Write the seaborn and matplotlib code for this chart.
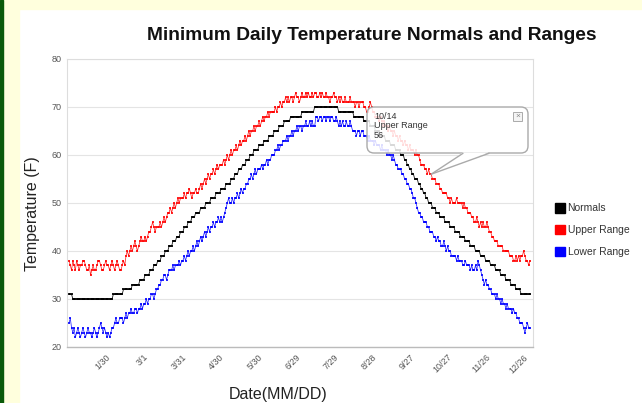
import numpy as np
import pandas as pd
import seaborn as sns
import matplotlib.pyplot as plt
from matplotlib.patches import Patch, Rectangle, FancyBboxPatch, Polygon

# --- daily values, one row per month ---
normals = [
    31,31,31,30,30,30,30,30,30,30, 30,30,30,30,30,30,30,30,30,30, 30,30,30,30,30,30,30,30,30,30, 30,
    30,30,30,30,31,31,31,31,31,31, 31,31,32,32,32,32,32,32,32,33, 33,33,33,33,33,34,34,34,
    34,35,35,35,35,36,36,36,37,37, 37,38,38,38,39,39,39,40,40,40, 41,41,41,42,42,42,43,43,43,44, 44,
    44,45,45,45,46,46,46,47,47,47, 48,48,48,48,49,49,49,49,50,50, 50,50,51,51,51,51,52,52,52,52,
    53,53,53,53,54,54,54,54,55,55, 55,56,56,56,57,57,57,58,58,58, 59,59,59,60,60,60,61,61,61,61, 62,
    62,62,62,63,63,63,63,64,64,64, 64,65,65,65,65,66,66,66,66,67, 67,67,67,67,68,68,68,68,68,68,
    68,68,68,69,69,69,69,69,69,69, 69,69,69,70,70,70,70,70,70,70, 70,70,70,70,70,70,70,70,70,70, 70,
    70,69,69,69,69,69,69,69,69,69, 69,69,69,68,68,68,68,68,68,68, 68,67,67,67,67,67,66,66,66,66, 65,
    65,65,65,64,64,64,64,63,63,63, 63,62,62,62,62,61,61,61,61,60, 60,60,59,59,58,58,57,57,56,56,
    55,55,55,54,54,53,53,52,52,51, 51,50,50,50,49,49,49,48,48,48, 47,47,47,47,46,46,46,46,45,45, 45,
    45,44,44,44,44,43,43,43,43,42, 42,42,42,41,41,41,41,40,40,40, 40,39,39,39,39,38,38,38,38,37,
    37,37,37,36,36,36,36,35,35,35, 35,34,34,34,34,33,33,33,33,32, 32,32,32,31,31,31,31,31,31,31, 31,
]

upper_range = [
    38,37,36,38,37,36,38,37,36,37, 37,38,38,37,36,36,37,35,36,37, 36,36,37,38,38,37,36,36,37,38, 37,
    37,36,37,38,37,36,37,38,37,36, 36,37,38,37,39,40,39,40,41,40, 41,42,41,40,41,42,43,42,
    42,43,42,43,44,44,45,46,45,44, 45,45,45,46,45,46,47,46,47,48, 48,49,48,49,50,49,50,51,50,51, 51,
    51,52,51,52,52,53,52,51,52,52, 53,52,52,53,54,53,54,55,54,55, 56,55,56,56,57,56,57,58,57,58,
    58,58,59,58,59,60,59,60,61,60, 61,61,62,61,62,63,62,63,63,64, 63,64,65,64,65,65,66,65,66,66, 67,
    66,67,68,67,68,68,69,68,69,69, 69,69,70,69,70,70,71,70,71,71, 72,71,72,71,72,72,71,72,73,72,
    72,71,72,73,72,72,73,72,73,72, 72,73,72,73,73,72,72,73,72,73, 72,72,73,72,72,71,72,72,73,72, 72,
    71,72,71,72,71,71,72,71,71,71, 72,71,71,71,70,71,71,70,71,71, 71,70,70,69,69,70,71,70,69,69, 68,
    68,68,67,68,67,66,67,66,66,65, 66,65,65,64,65,64,64,63,64,63, 63,62,63,62,62,61,62,61,61,61,
    60,61,60,60,59,58,58,58,57,57, 56,57,56,56,55,55,55,54,54,54, 53,53,52,52,52,52,51,51,50,51, 50,
    50,50,51,50,50,50,50,49,50,49, 49,48,48,48,47,47,46,46,47,46, 45,46,45,46,45,45,46,45,44,44,
    43,43,42,42,42,41,41,41,41,40, 40,40,40,40,39,39,39,38,38,39, 38,39,38,39,39,40,39,38,38,37, 38,
]

lower_range = [
    25,26,24,23,24,22,23,24,23,22, 23,24,23,22,23,24,23,23,22,23, 24,23,22,23,24,25,24,23,24,23, 22,
    23,22,23,24,24,25,26,25,25,26, 26,26,25,26,27,26,27,27,28,27, 27,28,28,27,28,28,29,28,
    29,29,30,29,30,30,31,31,30,31, 32,32,33,33,34,34,35,35,34,35, 36,36,36,37,36,37,37,37,38,37, 38,
    38,39,38,39,40,39,40,40,41,40, 41,42,41,42,43,42,43,44,43,44, 45,44,45,45,46,45,46,46,47,46,
    47,46,47,48,49,50,51,50,50,51, 50,51,51,52,51,52,53,52,53,53, 54,54,55,55,56,55,56,57,56,57, 57,
    57,58,57,58,58,59,58,59,59,60, 60,60,61,61,62,61,62,62,63,63, 63,64,63,64,64,65,64,65,65,66,
    65,66,66,65,66,66,67,66,66,67, 66,67,66,66,68,68,67,68,68,67, 68,68,67,68,68,67,68,68,67,67, 68,
    67,66,67,66,67,66,66,67,66,66, 67,66,65,65,65,64,65,65,64,65, 65,64,64,64,63,64,63,63,63,62, 63,
    62,62,62,61,62,61,61,61,60,61, 60,60,59,60,59,58,58,57,57,57, 56,56,55,55,54,54,53,53,52,51,
    51,50,49,48,48,47,47,46,46,46, 45,45,44,44,44,43,43,42,43,42, 42,41,41,42,41,40,41,40,40,39, 39,
    39,39,38,39,38,38,38,37,37,38, 37,37,37,36,37,36,36,37,36,38, 37,36,35,34,33,34,33,33,32,32,
    31,31,31,30,31,30,30,29,30,29, 29,28,29,28,28,28,27,28,27,27, 26,26,25,25,25,24,23,24,25,24, 24,
]

assert len(normals) == len(upper_range) == len(lower_range) == 365

tick_days = [30, 60, 90, 120, 150, 180, 210, 240, 270, 300, 330, 360]
tick_labels = ['1/30', '3/1', '3/31', '4/30', '5/30', '6/29', '7/29',
               '8/28', '9/27', '10/27', '11/26', '12/26']
series_names = ['Normals', 'Upper Range', 'Lower Range']
series_colors = ['#000000', '#FF0000', '#0000FF']

# tooltip shown in the screenshot
tip_day = 287
tip_date = '10/14'
tip_series = 'Upper Range'

days = np.arange(1, 366)
df = pd.DataFrame({
    'day': np.tile(days, 3),
    'temp': normals + upper_range + lower_range,
    'series': np.repeat(series_names, len(days)),
})

sns.set_style('white')
plt.rcParams['font.family'] = ['Liberation Sans', 'DejaVu Sans']

W, H = 642, 403
fig = plt.figure(figsize=(W / 100, H / 100), dpi=100)


def fx(x):
    return x / W


def fy(y):
    return 1 - y / H


# page background: yellow margins and green edge
yellow = '#FFFFDD'
fig.add_artist(Rectangle((0, fy(9)), 1, 1 - fy(9), transform=fig.transFigure,
                         color=yellow, zorder=-2))
fig.add_artist(Rectangle((0, 0), fx(19), 1, transform=fig.transFigure,
                         color=yellow, zorder=-2))
fig.add_artist(Rectangle((0, 0), fx(3), 1, transform=fig.transFigure,
                         color='#0A5A0A', zorder=-1))

ax = fig.add_axes([fx(67), fy(347), fx(533) - fx(67), fy(59) - fy(347)])

for name, color in zip(series_names, series_colors):
    sub = df[df['series'] == name]
    big = name == 'Normals'
    sns.lineplot(data=sub, x='day', y='temp', color=color, ax=ax,
                 lw=0.6 if big else 0.55, marker='s',
                 markersize=2.0 if big else 1.5, markeredgewidth=0,
                 alpha=0.9 if big else 0.85, errorbar=None, legend=False)

ax.set_xlim(-0.6, 367.4)
ax.set_ylim(20, 80)
ax.set_yticks(range(20, 81, 10))
ax.set_xticks(tick_days)
ax.set_xticklabels(tick_labels, rotation=45, ha='right', rotation_mode='anchor')
ax.tick_params(length=0, labelsize=6.5, labelcolor='#555555', pad=4)
ax.set_xlabel('')
ax.set_ylabel('')
ax.grid(axis='y', color='#E4E4E4', lw=0.8)
ax.set_axisbelow(True)
for side in ['left', 'right', 'top']:
    ax.spines[side].set_color('#DDDDDD')
    ax.spines[side].set_linewidth(0.8)
ax.spines['bottom'].set_color('#BBBBBB')
ax.spines['bottom'].set_linewidth(1.0)

fig.text(fx(372), fy(35), 'Minimum Daily Temperature Normals and Ranges',
         ha='center', va='center', fontsize=13.8, fontweight='bold', color='#111111')
fig.text(fx(33), fy(214), 'Temperature (F)', rotation=90, ha='center',
         va='center', fontsize=11.5, color='#222222')
fig.text(fx(278), fy(394), 'Date(MM/DD)', ha='center', va='center',
         fontsize=11.5, color='#222222')

handles = [Patch(facecolor=c, edgecolor=c, label=n)
           for n, c in zip(series_names, series_colors)]
leg = fig.legend(handles=handles, loc='center left',
                 bbox_to_anchor=(fx(555), fy(230)), frameon=False, fontsize=7.5,
                 handlelength=1.0, handleheight=1.0, handletextpad=0.2,
                 labelspacing=1.1, borderaxespad=0, borderpad=0)
for t in leg.get_texts():
    t.set_color('#333333')

# tooltip box with pointer to the hovered point
tip_val = upper_range[tip_day - 1]
tip_xy = fig.transFigure.inverted().transform(ax.transData.transform((tip_day, tip_val)))
box_fc = (1, 1, 1, 0.85)
box = FancyBboxPatch((fx(367), fy(153)), fx(528) - fx(367), fy(107) - fy(153),
                     boxstyle='round,pad=0,rounding_size=0.011',
                     mutation_aspect=W / H, transform=fig.transFigure,
                     fc=box_fc, ec='#AAAAAA', lw=1.0, zorder=5)
fig.add_artist(box)
b1, b2 = (fx(463), fy(152.3)), (fx(489), fy(152.3))
fig.add_artist(Polygon([b1, tuple(tip_xy), b2], closed=True, transform=fig.transFigure,
                       fc='white', ec='none', zorder=6))
for b in (b1, b2):
    fig.add_artist(plt.Line2D([b[0], tip_xy[0]], [fy(153.3), tip_xy[1]],
                              transform=fig.transFigure, color='#AAAAAA', lw=1.0, zorder=7))
fig.text(fx(374), fy(112), f'{tip_date}\n{tip_series}\n{tip_val}', ha='left', va='top',
         fontsize=6.5, linespacing=1.05, color='#333333', zorder=8)
fig.add_artist(Rectangle((fx(513), fy(121)), fx(9), fy(112) - fy(121),
                         transform=fig.transFigure, fc='#F4F4F4', ec='#AAAAAA',
                         lw=0.7, zorder=8))
fig.text(fx(517.5), fy(116.5), '×', ha='center', va='center', fontsize=6,
         color='#888888', zorder=9)

fig.savefig('out.png', dpi=100)
